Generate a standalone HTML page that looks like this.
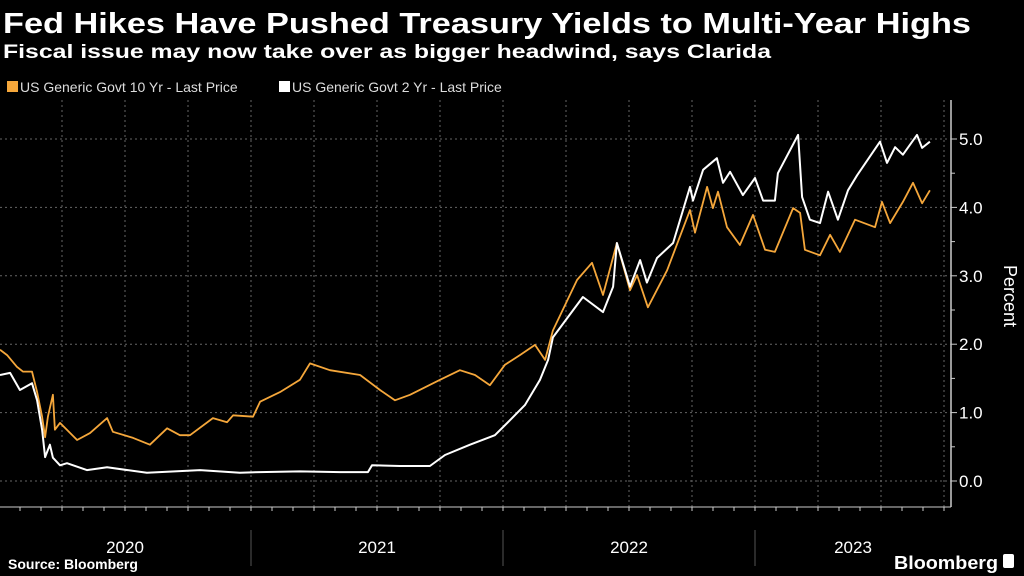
<!DOCTYPE html>
<html><head><meta charset="utf-8"><style>
html,body{margin:0;padding:0;background:#000;width:1024px;height:576px;overflow:hidden}
svg{display:block;font-family:"Liberation Sans",sans-serif}
</style></head><body>
<svg id="chart" width="1024" height="576" viewBox="0 0 1024 576">
<text x="3" y="33" fill="#fff" font-size="29" font-weight="bold" textLength="968" lengthAdjust="spacingAndGlyphs">Fed Hikes Have Pushed Treasury Yields to Multi-Year Highs</text>
<text x="3" y="58" fill="#fff" font-size="19" font-weight="bold" textLength="768" lengthAdjust="spacingAndGlyphs">Fiscal issue may now take over as bigger headwind, says Clarida</text>
<g>
<rect x="7" y="81" width="11" height="11" fill="#f5a73b"/>
<text x="20" y="92" fill="#ddd" font-size="14">US Generic Govt 10 Yr - Last Price</text>
<rect x="279" y="81" width="11" height="11" fill="#fff"/>
<text x="292" y="92" fill="#ddd" font-size="14">US Generic Govt 2 Yr - Last Price</text>
</g>
<g id="grid"></g>
<g id="axes"></g>
<g id="series"></g>
<text x="8" y="569" fill="#fff" font-size="14" font-weight="bold">Source: Bloomberg</text>
<text x="894" y="569" fill="#fff" font-size="18" font-weight="bold" textLength="104" lengthAdjust="spacingAndGlyphs">Bloomberg</text>
<rect x="1003" y="554" width="11" height="14" rx="2" fill="#fff"/>
</svg>
<script>
const yTicks = [0, 1, 2, 3, 4, 5];
const yearLabels = ["2020", "2021", "2022", "2023"];
const dates10 = [2020.004,2020.032,2020.071,2020.095,2020.131,2020.151,2020.171,2020.183,2020.194,2020.214,2020.222,2020.242,2020.310,2020.361,2020.429,2020.452,2020.532,2020.599,2020.667,2020.718,2020.758,2020.849,2020.905,2020.929,2021.008,2021.036,2021.115,2021.194,2021.234,2021.313,2021.433,2021.512,2021.571,2021.631,2021.750,2021.829,2021.889,2021.948,2022.008,2022.067,2022.127,2022.167,2022.198,2022.294,2022.353,2022.397,2022.452,2022.504,2022.532,2022.575,2022.651,2022.742,2022.762,2022.810,2022.833,2022.853,2022.889,2022.940,2022.992,2023.040,2023.079,2023.151,2023.179,2023.198,2023.258,2023.298,2023.337,2023.397,2023.476,2023.504,2023.536,2023.587,2023.627,2023.663,2023.694];
const values10 = [1.92,1.84,1.67,1.6,1.6,1.3,0.94,0.64,0.94,1.26,0.75,0.85,0.6,0.7,0.92,0.72,0.63,0.53,0.77,0.67,0.67,0.92,0.86,0.96,0.94,1.16,1.3,1.48,1.72,1.62,1.55,1.33,1.18,1.26,1.48,1.62,1.55,1.4,1.7,1.84,1.99,1.77,2.2,2.94,3.19,2.72,3.48,2.79,3.01,2.54,3.08,3.96,3.63,4.3,3.99,4.23,3.71,3.45,3.89,3.38,3.35,3.99,3.92,3.38,3.3,3.6,3.35,3.82,3.71,4.08,3.77,4.08,4.36,4.06,4.25];
const dates2 = [2020.004,2020.044,2020.083,2020.131,2020.151,2020.171,2020.183,2020.202,2020.214,2020.242,2020.270,2020.349,2020.429,2020.587,2020.798,2020.956,2021.036,2021.194,2021.353,2021.464,2021.480,2021.591,2021.710,2021.770,2021.869,2021.968,2022.028,2022.087,2022.147,2022.179,2022.198,2022.317,2022.397,2022.437,2022.452,2022.504,2022.544,2022.571,2022.611,2022.675,2022.742,2022.754,2022.794,2022.849,2022.873,2022.901,2022.952,2023.000,2023.032,2023.079,2023.091,2023.171,2023.187,2023.218,2023.258,2023.290,2023.329,2023.369,2023.405,2023.496,2023.524,2023.556,2023.587,2023.643,2023.663,2023.694];
const values2 = [1.55,1.58,1.33,1.43,1.18,0.75,0.35,0.53,0.34,0.23,0.26,0.16,0.2,0.12,0.16,0.12,0.13,0.14,0.13,0.13,0.23,0.22,0.22,0.38,0.53,0.67,0.89,1.11,1.48,1.77,2.1,2.69,2.47,2.84,3.48,2.84,3.23,2.9,3.26,3.48,4.3,4.1,4.55,4.72,4.36,4.52,4.18,4.43,4.1,4.1,4.5,5.06,4.15,3.82,3.77,4.23,3.82,4.25,4.47,4.96,4.65,4.88,4.77,5.06,4.87,4.96];

const NS = "http://www.w3.org/2000/svg";
const X0 = -1, PXYR = 252, Y0 = 481, PXU = 68.4, AXX = 951, TOP = 100, BOT = 507;
function xScale(t){ return X0 + (t - 2020) * PXYR; }
function yScale(v){ return Y0 - v * PXU; }
function mk(tag, attrs, parent){ const e = document.createElementNS(NS, tag); for (const k in attrs) e.setAttribute(k, attrs[k]); parent.appendChild(e); return e; }

const grid = document.getElementById('grid');
const axes = document.getElementById('axes');
const series = document.getElementById('series');

yTicks.forEach(v => {
  const l = mk('line', {x1:0, x2:AXX, y1:yScale(v), y2:yScale(v), stroke:'#666', 'stroke-width':1, 'stroke-dasharray':'2,3'}, grid);
  
  
  const t = mk('line', {x1:AXX, x2:AXX+6, y1:yScale(v), y2:yScale(v), stroke:'#ccc', 'stroke-width':1}, axes);
  
  
  const lb = mk('text', {x:AXX+8, y:yScale(v)+6, fill:'#fff', 'font-size':17}, axes);
  lb.textContent = v.toFixed(1);
  
  
});
for (let v = 0.5; v < 5.5; v += 1) {
  const t = mk('line', {x1:AXX, x2:AXX+4, y1:yScale(v), y2:yScale(v), stroke:'#ccc', 'stroke-width':1}, axes);
  
  
}
for (let q = 1; q <= 15; q++) {
  const x = xScale(2020 + q / 4);
  const l = mk('line', {x1:x, x2:x, y1:TOP, y2:BOT, stroke:'#666', 'stroke-width':1, 'stroke-dasharray':'2,3'}, grid);
  
  
}
for (let m = 1; m < 48; m++) {
  const x = xScale(2020 + m / 12);
  if (x > AXX) break;
  const t = mk('line', {x1:x, x2:x, y1:BOT, y2:BOT+4, stroke:'#ccc', 'stroke-width':1}, axes);
  
  
}
const ya = mk('line', {x1:AXX, x2:AXX, y1:TOP, y2:BOT, stroke:'#ccc', 'stroke-width':1.5}, axes);


const xa = mk('line', {x1:0, x2:AXX, y1:BOT, y2:BOT, stroke:'#ccc', 'stroke-width':1}, axes);


const ttl = mk('text', {x:0, y:0, fill:'#fff', 'font-size':18, transform:'translate(1004,265) rotate(90)'}, axes);
ttl.textContent = 'Percent';


yearLabels.forEach((y, i) => {
  const yr = 2020 + i;
  const cx = (xScale(yr) + Math.min(xScale(yr + 1), AXX)) / 2;
  const lb = mk('text', {x:cx, y:553, fill:'#fff', 'font-size':17, 'text-anchor':'middle'}, axes);
  lb.textContent = y;
  
  
  if (i > 0) {
    const s = mk('line', {x1:xScale(yr), x2:xScale(yr), y1:530, y2:566, stroke:'#555', 'stroke-width':1}, axes);
    
    
  }
});
function path(dates, vals){ return dates.map((d, i) => (i ? 'L' : 'M') + xScale(d).toFixed(1) + ',' + yScale(vals[i]).toFixed(1)).join(''); }
const p10 = mk('path', {d:path(dates10, values10), fill:'none', stroke:'#f5a73b', 'stroke-width':1.8, 'stroke-linejoin':'round'}, series);


const p2 = mk('path', {d:path(dates2, values2), fill:'none', stroke:'#fff', 'stroke-width':2, 'stroke-linejoin':'round'}, series);


</script>
</body></html>
